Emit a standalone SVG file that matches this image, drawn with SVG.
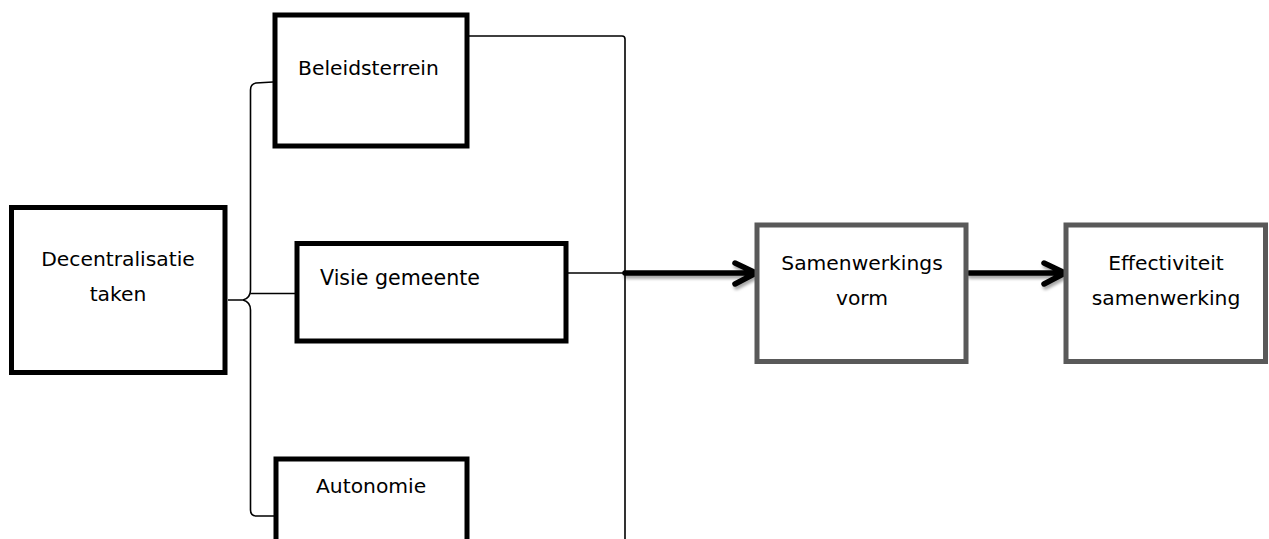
<svg xmlns="http://www.w3.org/2000/svg" width="1269" height="539" viewBox="0 0 1269 539">
  <defs>
    <filter id="sh" x="-10%" y="-50%" width="120%" height="250%">
      <feDropShadow dx="1.5" dy="3" stdDeviation="1.8" flood-color="#000" flood-opacity="0.35"/>
    </filter>
    <style>
      .box { fill: #fff; stroke: #000; stroke-width: 5; }
      .gbox { fill: #fff; stroke: #595959; stroke-width: 5; }
      .lbl { font-family: "DejaVu Sans", "Liberation Sans", sans-serif; font-size: 20.3px; fill: #000; }
      .thin { fill: none; stroke: #000; stroke-width: 1.6; }
      .thick { fill: none; stroke: #000; stroke-width: 5.5; stroke-linecap: round; stroke-linejoin: round; }
    </style>
  </defs>
  <rect width="1269" height="539" fill="#fff"/>

  <g id="connectors">
    <path class="thin" d="M273,82 L256,83 Q250.5,84 250.5,90 L250.5,290 Q250.5,298 243,300 L228,300 M243,300 Q250.5,302 250.5,310 L250.5,510 Q250.5,516 257,516 L275,516"/>
    <path class="thin" d="M250.5,293.5 L297,293.5"/>
    <path class="thin" d="M469,36 L622,36 Q625,36 625,39 L625,539"/>
    <path class="thin" d="M568,273 L625,273"/>
    <g filter="url(#sh)">
      <path class="thick" d="M625,273 L753,273 M735,263 L756,273 L735,284"/>
      <path class="thick" d="M969,273 L1062,273 M1044,263 L1065,273 L1044,284"/>
    </g>
  </g>

  <g id="node-decentralisatie">
    <rect class="box" x="11.5" y="207.5" width="213.5" height="165"/>
    <text class="lbl" x="118" y="266" text-anchor="middle">Decentralisatie</text>
    <text class="lbl" x="118" y="301" text-anchor="middle">taken</text>
  </g>

  <g id="node-beleidsterrein">
    <rect class="box" x="275" y="15" width="192" height="131"/>
    <text class="lbl" x="298" y="75">Beleidsterrein</text>
  </g>

  <g id="node-visie">
    <rect class="box" x="297" y="243.5" width="269" height="97.5"/>
    <text class="lbl" x="320" y="285" style="font-size:20.6px">Visie gemeente</text>
  </g>

  <g id="node-autonomie">
    <rect class="box" x="276" y="459" width="191" height="100"/>
    <text class="lbl" x="316" y="493">Autonomie</text>
  </g>

  <g id="node-samenwerkingsvorm">
    <rect class="gbox" x="757" y="225" width="209" height="136.5"/>
    <text class="lbl" x="862" y="270" text-anchor="middle">Samenwerkings</text>
    <text class="lbl" x="862" y="305" text-anchor="middle">vorm</text>
  </g>

  <g id="node-effectiviteit">
    <rect class="gbox" x="1066" y="225" width="199.5" height="136.5"/>
    <text class="lbl" x="1166" y="270" text-anchor="middle">Effectiviteit</text>
    <text class="lbl" x="1166" y="305" text-anchor="middle">samenwerking</text>
  </g>
</svg>
